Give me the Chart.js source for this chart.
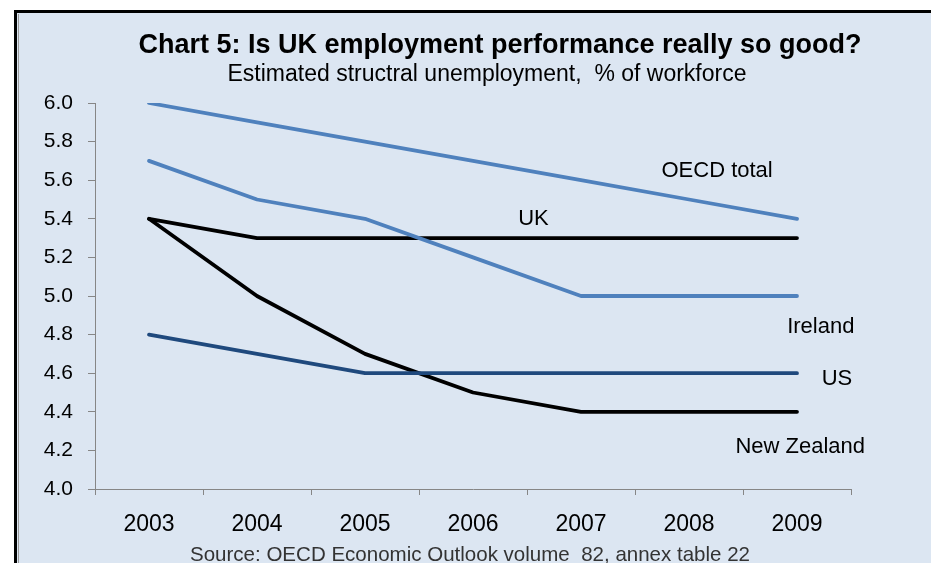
<!DOCTYPE html>
<html>
<head>
<meta charset="utf-8">
<script src="https://cdn.jsdelivr.net/npm/chart.js@4/dist/chart.umd.min.js"></script>
<style>
    html, body { margin: 0; padding: 0; background: #fff; }
    #wrap { position: absolute; left: 0; top: 0; width: 931px; height: 563px; }
</style>
</head>
<body>
<div id="wrap"><canvas id="chart" width="931" height="563"></canvas></div>
<script>
// data
const years = ["2003", "2004", "2005", "2006", "2007", "2008", "2009"];
const oecdTotal = [6.0, 5.9, 5.8, 5.7, 5.6, 5.5, 5.4];
const ireland = [5.7, 5.5, 5.4, 5.2, 5.0, 5.0, 5.0];
const uk = [5.4, 5.3, 5.3, 5.3, 5.3, 5.3, 5.3];
const us = [4.8, 4.7, 4.6, 4.6, 4.6, 4.6, 4.6];
const newZealand = [5.4, 5.0, 4.7, 4.5, 4.4, 4.4, 4.4];
const yMin = 4.0;
const yMax = 6.0;
const yStep = 0.2;

// series labels placed in data space: [text, category index, value]
const seriesLabels = [
    ["OECD total", 5.26, 5.65],
    ["UK", 3.56, 5.40],
    ["Ireland", 6.22, 4.84],
    ["US", 6.37, 4.57],
    ["New Zealand", 6.03, 4.22]
];

const titleText = "Chart 5: Is UK employment performance really so good?";
const subtitleText = "Estimated structral unemployment,  % of workforce";
const sourceText = "Source: OECD Economic Outlook volume  82, annex table 22";

const FONT = '"Liberation Sans", Arial, sans-serif';
const LIGHT_BLUE = "#4f81bd";
const DARK_BLUE = "#1f497d";

const backdrop = {
    id: "backdrop",
    beforeDraw(chart) {
        const ctx = chart.ctx;
        ctx.save();
        ctx.fillStyle = "#fff";
        ctx.fillRect(0, 0, chart.width, chart.height);
        ctx.fillStyle = "#dce6f2";
        ctx.fillRect(16, 12, chart.width - 16, chart.height - 12);
        ctx.fillStyle = "#000";
        ctx.fillRect(14, 10, chart.width - 14, 3);
        ctx.fillRect(14, 10, 3, chart.height - 10);
        ctx.fillStyle = "#9a9a9a";
        ctx.fillRect(18, 14, 1, chart.height - 14);
        ctx.restore();
    }
};

const texts = {
    id: "texts",
    afterDraw(chart) {
        const ctx = chart.ctx;
        const xs = chart.scales.x;
        const ys = chart.scales.y;
        ctx.save();
        ctx.textAlign = "center";
        ctx.textBaseline = "middle";
        ctx.fillStyle = "#000";

        ctx.font = "bold 27px " + FONT;
        ctx.fillText(titleText, 500, 46, 724);
        ctx.font = "23px " + FONT;
        ctx.fillText(subtitleText, 487, 75, 550);

        ctx.font = "22px " + FONT;
        seriesLabels.forEach(([text, idx, val]) => {
            const x0 = xs.getPixelForValue(Math.floor(idx));
            const x1 = xs.getPixelForValue(Math.floor(idx) + 1);
            const x = x0 + (x1 - x0) * (idx - Math.floor(idx));
            ctx.fillText(text, x, ys.getPixelForValue(val));
        });

        ctx.fillStyle = "#333";
        ctx.font = "21px " + FONT;
        ctx.fillText(sourceText, 470, 555, 560);
        ctx.restore();
    }
};

function line(label, data, color) {
    return {
        label: label,
        data: data,
        borderColor: color,
        backgroundColor: color,
        borderWidth: 3.8,
        borderCapStyle: "round",
        borderJoinStyle: "round",
        pointRadius: 0,
        tension: 0,
        fill: false
    };
}

new Chart(document.getElementById("chart"), {
    type: "line",
    data: {
        labels: years,
        datasets: [
            line("OECD total", oecdTotal, LIGHT_BLUE),
            line("Ireland", ireland, LIGHT_BLUE),
            line("US", us, DARK_BLUE),
            line("UK", uk, "#000"),
            line("New Zealand", newZealand, "#000")
        ]
    },
    options: {
        responsive: false,
        animation: false,
        layout: { padding: { left: 30, right: 80, top: 103, bottom: 20 } },
        plugins: {
            legend: { display: false },
            title: { display: false },
            tooltip: { enabled: false }
        },
        scales: {
            x: {
                offset: true,
                grid: { offset: true, drawOnChartArea: false, drawTicks: true, tickLength: 6, color: "#868686" },
                border: { color: "#868686", width: 1 },
                ticks: { color: "#000", padding: 16, font: { family: FONT, size: 23 }, maxRotation: 0 },
                afterFit: s => { s.height = 54; }
            },
            y: {
                min: yMin,
                max: yMax,
                grid: { drawOnChartArea: false, drawTicks: true, tickLength: 7, color: "#868686" },
                border: { color: "#868686", width: 1 },
                ticks: {
                    stepSize: yStep,
                    color: "#000",
                    padding: 15,
                    font: { family: FONT, size: 21 },
                    callback: v => v.toFixed(1)
                },
                afterFit: s => { s.width = 65; }
            }
        }
    },
    plugins: [backdrop, texts]
});
</script>
</body>
</html>
